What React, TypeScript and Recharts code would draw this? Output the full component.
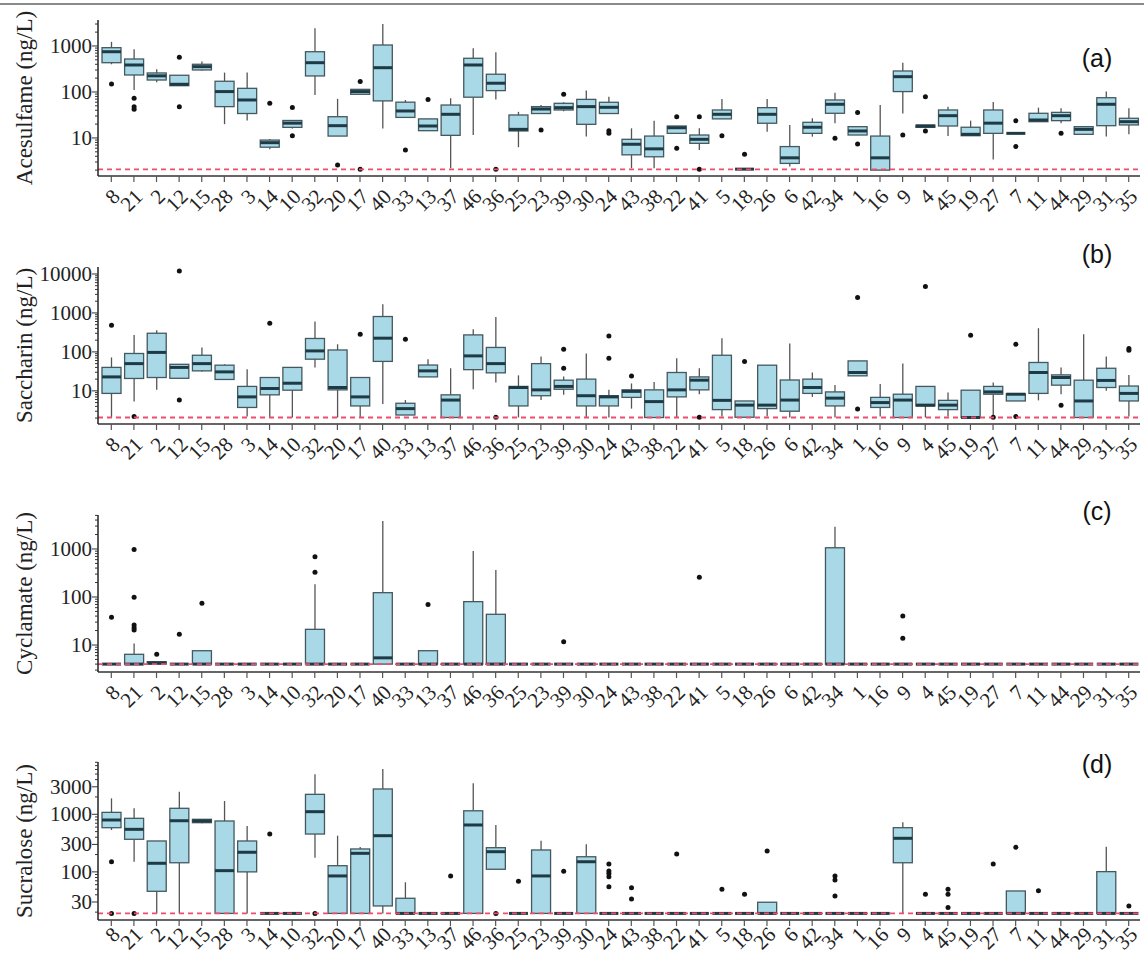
import React from 'react';
import { ComposedChart, Bar, XAxis, YAxis, ReferenceLine } from 'recharts';

// sampling sites, in plotting order
const sites = [
  '8', '21', '2', '12', '15', '28', '3', '14', '10', '32',
  '20', '17', '40', '33', '13', '37', '46', '36', '25', '23',
  '39', '30', '24', '43', '38', '22', '41', '5', '18', '26',
  '6', '42', '34', '1', '16', '9', '4', '45', '19', '27',
  '7', '11', '44', '29', '31', '35',
];

// (a) Acesulfame, ng/L
const aceLow = [400, 110, 163, 137, 290, 20, 24, 5.7, 16, 86, 11, 89, 16, 28, 14.4, 2.2, 11.6, 69, 6.3, 34, 38, 10.7, 34, 2.2, 2.2, 12.6, 5.5, 26, 2.1, 13.7, 2.4, 10.7, 21, 11.6, 2.0, 34, 17, 11, 11.2, 3.4, 12.6, 22.6, 21, 12, 10.7, 12];
const aceQ1 = [433, 234, 182, 137, 301, 48, 34, 6.3, 17, 223, 11, 89, 64, 28, 14.4, 11.4, 77, 107, 14.2, 34, 40.6, 19.8, 34, 4.3, 3.9, 12.6, 7.65, 26, 2.1, 20.9, 2.8, 12.6, 34.4, 11.6, 2.0, 102, 17, 18.2, 11.2, 12.6, 12.6, 22.6, 23.8, 12, 18.5, 19.2];
const aceMed = [750, 386, 224, 147, 355, 102, 67, 7.9, 21, 433, 18.5, 102, 337, 38.6, 18.2, 32.7, 386, 155, 15.4, 42.6, 45.6, 48, 46.4, 7.3, 5.8, 16.7, 9.35, 32.7, 2.1, 32.7, 3.7, 17.1, 54, 14.2, 3.7, 215, 18.2, 30.5, 12, 21, 12.6, 24.6, 30.5, 15.4, 54, 22.6];
const aceQ3 = [918, 521, 259, 231, 400, 171, 120, 9.0, 24, 750, 29, 114, 1050, 60, 26, 52, 540, 243, 31.6, 48, 56.7, 69, 59.7, 9.35, 11, 18.2, 11.6, 40.6, 2.1, 45.6, 6.5, 21.9, 67, 17.6, 11, 286, 19, 40.6, 17.1, 40.6, 12.6, 34.4, 36, 17.6, 75, 26.8];
const aceHigh = [1230, 848, 310, 231, 457, 264, 264, 9.5, 24, 2430, 71, 114, 3000, 67, 26, 73, 890, 730, 37, 52, 60, 107, 79, 16.2, 23.6, 18.2, 16.2, 70, 2.1, 70, 19.2, 26.8, 96.6, 17.6, 52, 433, 19, 48, 23.8, 60.9, 12.6, 45.6, 44, 17.6, 102, 44];
const aceOut = [[149], [73, 48, 42], [], [567, 48], [], [], [], [57], [46, 11.2], [], [2.6], [168, 2.1], [], [5.5], [69], [], [], [2.1], [], [14.9], [89], [], [14.4, 12.6], [], [], [29, 6.0], [29, 2.1], [11.2], [4.4], [], [], [], [9.8], [36, 7.4], [], [11.6], [79, 14.2], [], [], [], [23.6, 6.5], [], [12.6], [], [], []];

// (b) Saccharin, ng/L
const sacLow = [2.07, 5.3, 10.6, 21, 31, 19, 2.2, 2.07, 2.07, 40, 2.07, 2.07, 4.6, 2.4, 22.8, 2.07, 11, 16.4, 2.07, 5.8, 7.9, 2.07, 2.07, 3.5, 2.07, 2.07, 8.2, 2.2, 2.07, 2.2, 2.07, 7, 2.07, 24.3, 2.2, 2.07, 2.07, 2.2, 2.07, 2.2, 5.5, 5.7, 8.2, 2.07, 10, 2.2];
const sacQ1 = [8.6, 20.8, 22, 21, 32.6, 19.6, 3.75, 7.9, 10.4, 65, 10.6, 4.1, 57, 2.4, 22.8, 2.07, 35, 29, 4.1, 7.5, 11, 4.1, 4.1, 6.8, 2.07, 7, 10.6, 3.3, 2.1, 3.5, 3.0, 8.6, 4.1, 24.3, 3.75, 2.07, 4.1, 3.3, 2.07, 8.2, 5.5, 8.6, 14, 2.07, 12.2, 5.5];
const sacMed = [22.8, 50, 97, 40, 50, 30.7, 7, 11.5, 15.7, 106, 12.2, 7, 225, 3.5, 32.6, 5.8, 79, 50, 12.2, 10.6, 13, 7.5, 7, 9.7, 5.3, 10.6, 18.8, 5.7, 4.3, 4.3, 5.8, 12.2, 6.5, 29.6, 5.0, 5.8, 4.3, 4.3, 2.07, 9.4, 8.2, 29.6, 22, 5.5, 18.5, 8.6];
const sacQ3 = [40, 91, 301, 48, 82, 45.6, 13, 22, 40, 221, 112, 22, 809, 4.8, 46, 7.9, 273, 130, 13, 50, 18.8, 20, 7.5, 10.6, 10.6, 29.6, 22.8, 82, 5.5, 45.6, 19, 20, 9.4, 58.7, 6.8, 8.2, 13, 5.7, 10.4, 13, 8.4, 53.5, 25.7, 18.8, 38, 13.3];
const sacHigh = [72, 273, 360, 48, 130, 48, 36, 22, 41, 601, 157, 22, 1670, 5.8, 65, 38, 382, 789, 25, 76, 23.5, 91, 10.6, 15.5, 17, 69, 38, 225, 5.5, 46, 164, 29.6, 14.2, 58.7, 15, 50, 13, 9.1, 10.4, 16.4, 8.4, 405, 40, 284, 76, 25.7];
const sacOut = [[484], [2.2], [], [12000, 5.8], [], [], [], [545], [], [], [], [284], [], [212], [], [], [], [2.1], [], [], [117, 38], [], [257, 69], [24], [], [], [2.1], [], [57], [], [], [], [], [2480, 3.4], [], [], [4750], [], [268], [2.1], [157, 2.2], [], [4.3], [], [], [122, 111]];

// (c) Cyclamate, ng/L
const cycLow = [4, 4, 4, 4, 4, 4, 4, 4, 4, 4, 4, 4, 4, 4, 4, 4, 4, 4, 4, 4, 4, 4, 4, 4, 4, 4, 4, 4, 4, 4, 4, 4, 4, 4, 4, 4, 4, 4, 4, 4, 4, 4, 4, 4, 4, 4];
const cycQ1 = [4, 4, 4, 4, 4, 4, 4, 4, 4, 4, 4, 4, 4, 4, 4, 4, 4, 4, 4, 4, 4, 4, 4, 4, 4, 4, 4, 4, 4, 4, 4, 4, 4, 4, 4, 4, 4, 4, 4, 4, 4, 4, 4, 4, 4, 4];
const cycMed = [4, 4, 4.2, 4, 4, 4, 4, 4, 4, 4, 4, 4, 5.4, 4, 4, 4, 4, 4, 4, 4, 4, 4, 4, 4, 4, 4, 4, 4, 4, 4, 4, 4, 4, 4, 4, 4, 4, 4, 4, 4, 4, 4, 4, 4, 4, 4];
const cycQ3 = [4, 6.4, 4.5, 4, 7.6, 4, 4, 4, 4, 21.2, 4, 4, 123, 4, 7.6, 4, 80, 43.6, 4, 4, 4, 4, 4, 4, 4, 4, 4, 4, 4, 4, 4, 4, 1060, 4, 4, 4, 4, 4, 4, 4, 4, 4, 4, 4, 4, 4];
const cycHigh = [4, 10.8, 4.5, 4, 7.6, 4, 4, 4, 4, 184, 4, 4, 3830, 4, 7.6, 4, 908, 365, 4, 4, 4, 4, 4, 4, 4, 4, 4, 4, 4, 4, 4, 4, 2920, 4, 4, 4, 4, 4, 4, 4, 4, 4, 4, 4, 4, 4];
const cycOut = [[37.8], [980, 98.6, 26, 23, 20.5], [6.4], [16.7], [74], [], [], [], [], [692, 327], [], [], [], [], [70], [], [], [], [], [], [11.7], [], [], [], [], [], [257], [], [], [], [], [], [], [], [], [40, 13.8], [], [], [], [], [], [], [], [], [], []];

// (d) Sucralose, ng/L
const sucLow = [533, 150, 19, 19, 700, 19, 19, 19, 19, 176, 19, 19, 19, 19, 19, 19, 19, 111, 19, 19, 19, 19, 19, 19, 19, 19, 19, 19, 19, 19, 19, 19, 19, 19, 19, 19, 19, 19, 19, 19, 19, 19, 19, 19, 19, 19];
const sucQ1 = [585, 368, 46, 144, 715, 19, 100, 19, 19, 454, 19, 19, 25.6, 19, 19, 19, 19, 111, 19, 19, 19, 19, 19, 19, 19, 19, 19, 19, 19, 19, 19, 19, 19, 19, 19, 144, 19, 19, 19, 19, 19, 19, 19, 19, 19, 19];
const sucMed = [796, 548, 141, 773, 765, 105, 219, 19, 19, 1110, 85, 210, 425, 19, 19, 19, 652, 224, 19, 85, 19, 150, 19, 19, 19, 19, 19, 19, 19, 19, 19, 19, 19, 19, 19, 383, 19, 19, 19, 19, 19, 19, 19, 19, 19, 19];
const sucQ3 = [1080, 851, 344, 1270, 818, 765, 344, 19, 19, 2220, 128, 250, 2750, 34.8, 19, 19, 1150, 263, 19, 240, 19, 183, 19, 19, 19, 19, 19, 19, 19, 29.7, 19, 19, 19, 19, 19, 585, 19, 19, 19, 19, 46.6, 19, 19, 19, 101, 19];
const sucHigh = [1890, 1270, 350, 2470, 830, 1700, 626, 19, 19, 4940, 425, 270, 6110, 66, 19, 19, 3450, 652, 19, 348, 19, 301, 19, 19, 19, 19, 19, 19, 19, 29.7, 19, 19, 19, 19, 19, 726, 19, 19, 19, 19, 46.6, 19, 19, 19, 274, 19];
const sucOut = [[150, 19], [19], [], [], [], [], [], [454], [], [19], [], [], [], [], [], [85], [], [19], [69], [], [103], [], [137, 104, 94, 82, 55], [53, 33.8], [], [204], [], [50], [41], [230], [], [], [85, 72, 38], [], [], [], [41], [50, 41, 24], [], [137], [267], [47], [], [], [], [25.6]];

// labelled y ticks per panel
const aceTickLabels = [10, 100, 1000];
const sacTickLabels = [10, 100, 1000, 10000];
const cycTickLabels = [10, 100, 1000];
const sucTickLabels = [30, 100, 300, 1000, 3000];

const SERIF = "'Liberation Serif', 'Times New Roman', serif";

// every 1..9 x 10^k inside the domain, used for the minor log ticks
const logTicks = ([min, max]: number[]) => {
  const out: number[] = [];
  for (let k = Math.floor(Math.log10(min)); k <= Math.ceil(Math.log10(max)); k++) {
    for (let m = 1; m <= 9; m++) {
      const v = m * Math.pow(10, k);
      if (v >= min && v <= max) out.push(v);
    }
  }
  return out;
};

const buildRows = (low: number[], q1: number[], med: number[], q3: number[], high: number[], out: number[][]) =>
  sites.map((site, i) => ({
    site,
    low: low[i],
    q1: q1[i],
    med: med[i],
    q3: q3[i],
    high: high[i],
    out: out[i],
    range: [Math.min(low[i], ...out[i]), Math.max(high[i], ...out[i])],
  }));

// each chart gets extra bottom margin so the slanted site labels are not clipped
const EXTRA = 16;

const panels = [
  { tag: '(a)', yLabel: 'Acesulfame (ng/L)', rows: buildRows(aceLow, aceQ1, aceMed, aceQ3, aceHigh, aceOut), tickLabels: aceTickLabels, domain: [1.49, 3670], loq: 2.07, top: 0, height: 215, marginTop: 20, xAxisHeight: 39, labelDy: 17, tagY: 67 },
  { tag: '(b)', yLabel: 'Saccharin (ng/L)', rows: buildRows(sacLow, sacQ1, sacMed, sacQ3, sacHigh, sacOut), tickLabels: sacTickLabels, domain: [1.41, 15100], loq: 2.07, top: 215, height: 250, marginTop: 52, xAxisHeight: 41, labelDy: 17, tagY: 263 },
  { tag: '(c)', yLabel: 'Cyclamate (ng/L)', rows: buildRows(cycLow, cycQ1, cycMed, cycQ3, cycHigh, cycOut), tickLabels: cycTickLabels, domain: [2.74, 5100], loq: 4, top: 465, height: 247, marginTop: 50, xAxisHeight: 40, labelDy: 17, tagY: 520 },
  { tag: '(d)', yLabel: 'Sucralose (ng/L)', rows: buildRows(sucLow, sucQ1, sucMed, sucQ3, sucHigh, sucOut), tickLabels: sucTickLabels, domain: [14.6, 8090], loq: 19, top: 712, height: 246, marginTop: 50, xAxisHeight: 38, labelDy: 11, tagY: 773 },
];

// box, whiskers, median and outliers; positions interpolated on the log
// scale between the bar's own pixel ends (range = [lowest, highest])
const BoxShape = (props: any) => {
  const { x, y, width, height, payload } = props;
  if (x == null || y == null || !payload) return null;
  const [lo, hi] = payload.range;
  const top = Math.min(y, y + height);
  const bottom = Math.max(y, y + height);
  const l0 = Math.log10(lo);
  const span = Math.log10(hi) - l0;
  const py = (v: number) => (span > 0 ? bottom - ((Math.log10(v) - l0) / span) * (bottom - top) : top);
  const cx = x + width / 2;
  const yHi = py(payload.high);
  const yQ3 = py(payload.q3);
  const yMed = py(payload.med);
  const yQ1 = py(payload.q1);
  const yLo = py(payload.low);
  return (
    <g>
      {yQ3 - yHi > 0.5 && <line x1={cx} x2={cx} y1={yHi} y2={yQ3} stroke="#555" strokeWidth={1.3} />}
      {yLo - yQ1 > 0.5 && <line x1={cx} x2={cx} y1={yQ1} y2={yLo} stroke="#555" strokeWidth={1.3} />}
      {yQ1 - yQ3 > 0.5 && (
        <rect x={x} y={yQ3} width={width} height={yQ1 - yQ3} fill="#a9d9e7" stroke="#44585f" strokeWidth={1.3} />
      )}
      <line x1={x} x2={x + width} y1={yMed} y2={yMed} stroke="#1d3a45" strokeWidth={3} />
      {payload.out.map((v: number, i: number) => (
        <circle key={i} cx={cx} cy={py(v)} r={2.5} fill="#111" />
      ))}
    </g>
  );
};

const SiteTick = ({ x, y, payload, labelDy }: any) => (
  <g>
    <line x1={x} x2={x} y1={y} y2={y + 6} stroke="#555" strokeWidth={1.2} />
    <text
      transform={`translate(${x + 5},${y + labelDy}) rotate(-45)`}
      textAnchor="end"
      dominantBaseline="central"
      fontSize={21}
      fontFamily={SERIF}
      fill="#222"
    >
      {payload.value}
    </text>
  </g>
);

const LogTick = ({ x, y, payload, labels }: any) => {
  const major = labels.includes(payload.value);
  return (
    <g>
      <line x1={x} x2={x - (major ? 6 : 3)} y1={y} y2={y} stroke="#333" strokeWidth={1} />
      {major && (
        <text x={x - 6} y={y} dy={7} textAnchor="end" fontSize={21} fontFamily={SERIF} fill="#222">
          {payload.value}
        </text>
      )}
    </g>
  );
};

const AxisTitle = ({ viewBox, text }: any) => {
  if (!viewBox) return null;
  const cx = viewBox.x + 24;
  const cy = viewBox.y + viewBox.height / 2;
  return (
    <text
      transform={`translate(${cx},${cy}) rotate(-90)`}
      textAnchor="middle"
      dominantBaseline="central"
      fontSize={23}
      fontFamily={SERIF}
      fill="#222"
    >
      {text}
    </text>
  );
};

const Panel = ({ p }: any) => (
  <div style={{ position: 'absolute', left: 0, top: p.top }}>
    <ComposedChart
      width={1144}
      height={p.height + EXTRA}
      data={p.rows}
      margin={{ top: p.marginTop, right: 4, bottom: EXTRA, left: 0 }}
    >
      <XAxis
        dataKey="site"
        type="category"
        interval={0}
        tick={<SiteTick labelDy={p.labelDy} />}
        tickLine={false}
        tickSize={0}
        tickMargin={0}
        height={p.xAxisHeight}
        padding={{ left: 2, right: 0 }}
        axisLine={{ stroke: '#666', strokeWidth: 2 }}
      />
      <YAxis
        type="number"
        scale="log"
        domain={p.domain}
        allowDataOverflow
        ticks={logTicks(p.domain)}
        interval={0}
        tick={<LogTick labels={p.tickLabels} />}
        tickLine={false}
        tickSize={0}
        tickMargin={0}
        width={98}
        axisLine={{ stroke: '#222', strokeWidth: 1.5 }}
        label={<AxisTitle text={p.yLabel} />}
      />
      <Bar dataKey="range" barSize={19} shape={BoxShape} isAnimationActive={false} />
      <ReferenceLine y={p.loq} stroke="#f04d6a" strokeDasharray="5 4" strokeWidth={1.8} />
    </ComposedChart>
  </div>
);

export default function App() {
  return (
    <div style={{ position: 'relative', width: 1144, height: 958, background: '#fff', overflow: 'hidden' }}>
      <style>{'body{margin:0}'}</style>
      {panels.map((p) => (
        <Panel key={p.tag} p={p} />
      ))}
      <svg width={1144} height={958} style={{ position: 'absolute', left: 0, top: 0, pointerEvents: 'none' }}>
        <line x1={0} x2={1144} y1={4} y2={4} stroke="#8a8a8a" strokeWidth={2} />
        {panels.map((p) => (
          <text
            key={p.tag}
            x={1097}
            y={p.tagY}
            textAnchor="middle"
            fontSize={25}
            fontFamily="'Liberation Sans', Arial, sans-serif"
            fill="#111"
          >
            {p.tag}
          </text>
        ))}
      </svg>
    </div>
  );
}
